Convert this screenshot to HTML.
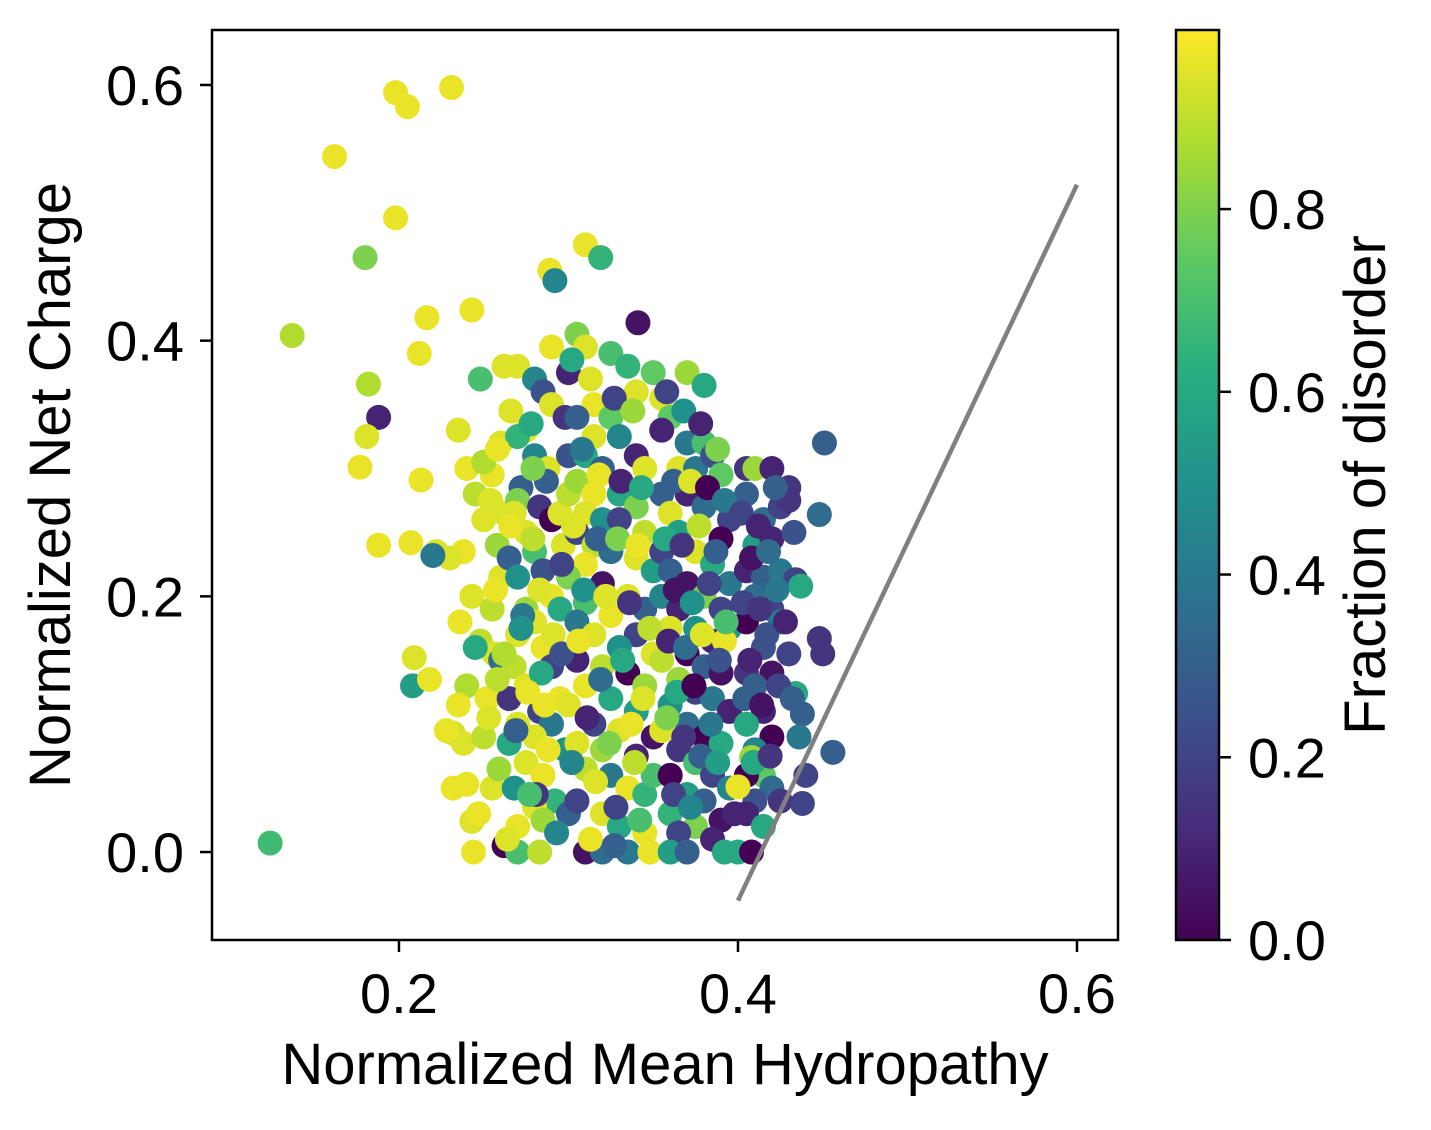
<!DOCTYPE html>
<html><head><meta charset="utf-8"><style>
html,body{margin:0;padding:0;background:#fff}
svg text{font-family:"Liberation Sans",Arial,sans-serif;fill:#000}
</style></head><body>
<svg id="chart" width="1431" height="1125" viewBox="0 0 1431 1125" xmlns="http://www.w3.org/2000/svg">
<defs><linearGradient id="vir" x1="0" y1="1" x2="0" y2="0">
<stop offset="0" stop-color="#440154"/><stop offset="0.125" stop-color="#472d7b"/><stop offset="0.25" stop-color="#3b528b"/><stop offset="0.375" stop-color="#2c728e"/><stop offset="0.5" stop-color="#21918c"/><stop offset="0.625" stop-color="#28ae80"/><stop offset="0.75" stop-color="#5ec962"/><stop offset="0.875" stop-color="#addc30"/><stop offset="1" stop-color="#fde725"/></linearGradient></defs>
<g id="points"></g>
<line id="ref" stroke="#808080" stroke-width="4.5"/>
<rect x="212" y="30" width="906" height="910" fill="none" stroke="#000" stroke-width="2.5"/>
<g id="axes"></g>
<text x="665" y="1084" font-size="58" text-anchor="middle">Normalized Mean Hydropathy</text>
<text transform="translate(70,485) rotate(-90)" font-size="58" text-anchor="middle">Normalized Net Charge</text>
<rect x="1176" y="30" width="43" height="910" fill="url(#vir)" stroke="#000" stroke-width="2.5"/>
<text transform="translate(1385,485) rotate(-90)" font-size="58" text-anchor="middle">Fraction of disorder</text>
</svg>
<script>
const xTicks=[0.2,0.4,0.6];
const yTicks=[0.0,0.2,0.4,0.6];
const cTicks=[0.0,0.2,0.4,0.6,0.8];
const refLineX=[0.4,0.6];
const refLineY=[-0.038,0.522];
const xs=[0.198,0.205,0.231,0.162,0.198,0.180,0.137,0.182,0.188,0.181,0.177,0.188,0.124,0.2165,0.212,0.213,0.207,0.209,0.208,0.243,0.310,0.319,0.289,0.292,0.341,
0.235,0.24,0.245,0.25,0.238,0.243,0.236,0.248,0.24,0.235,0.232,0.238,0.24,0.243,0.244,0.255,0.25,0.252,0.256,0.245,0.255,0.26,0.258,0.262,0.255,0.26,0.25,0.26,0.265,0.248,0.23,0.222,0.22,0.218,0.228,0.232,
0.27,0.262,0.28,0.285,0.29,0.29,0.275,0.27,0.28,0.288,0.272,0.27,0.283,0.29,0.295,0.275,0.28,0.27,0.285,0.29,0.275,0.28,0.295,0.27,0.285,0.268,0.29,0.275,0.265,0.283,0.295,0.27,0.29,0.28,0.265,0.275,0.285,0.268,0.292,0.28,0.27,0.285,0.262,0.27,0.283,0.3,0.298,0.297,0.3,0.3,0.298,
0.305,0.31,0.3,0.325,0.335,0.34,0.315,0.305,0.325,0.33,0.315,0.31,0.34,0.345,0.32,0.305,0.315,0.33,0.34,0.31,0.32,0.33,0.345,0.305,0.315,0.325,0.34,0.35,0.31,0.3,0.32,0.335,0.345,0.31,0.325,0.305,0.315,0.34,0.33,0.35,0.305,0.32,0.335,0.345,0.31,0.325,0.3,0.34,0.315,0.33,0.35,0.305,0.32,0.34,0.31,0.325,0.335,0.345,0.305,0.32,0.33,0.345,0.31,0.32,0.335,0.348,0.35,0.35,0.355,
0.37,0.38,0.36,0.37,0.38,0.355,0.365,0.375,0.385,0.39,0.355,0.37,0.36,0.38,0.395,0.39,0.365,0.355,0.375,0.385,0.36,0.37,0.38,0.395,0.355,0.365,0.39,0.375,0.36,0.385,0.395,0.37,0.355,0.38,0.39,0.365,0.375,0.36,0.385,0.395,0.37,0.355,0.38,0.39,0.365,0.375,0.36,0.385,0.395,0.37,0.38,0.36,0.39,0.375,0.365,0.385,0.36,0.37,0.392,0.4,
0.405,0.41,0.42,0.43,0.405,0.415,0.425,0.43,0.41,0.42,0.405,0.415,0.425,0.41,0.42,0.405,0.425,0.415,0.43,0.405,0.42,0.41,0.415,0.405,0.42,0.41,0.415,0.405,0.42,0.41,0.425,0.405,0.415,
0.451,0.448,0.456,0.438,0.450,0.448,0.434,0.437,0.434,0.438,0.408,0.400,0.392,0.408,
0.266,0.278,0.258,0.287,0.268,0.279,0.296,0.257,0.273,0.291,0.262,0.284,0.276,0.253,0.269,0.288,0.259,0.281,0.247,0.293,0.264,0.277,0.286,0.258,0.272,0.283,0.296,0.266,0.254,0.279,
0.302,0.313,0.327,0.338,0.308,0.318,0.331,0.343,0.303,0.317,0.329,0.341,0.309,0.322,0.336,0.348,0.306,0.319,0.332,0.344,0.311,0.324,0.337,0.302,0.316,0.328,0.342,0.313,0.327,0.339,
0.358,0.368,0.378,0.388,0.362,0.372,0.382,0.392,0.357,0.367,0.377,0.387,0.363,0.373,0.383,0.393,0.359,0.369,0.379,0.389,0.364,0.374,0.384,0.358,0.368,0.378,0.388,0.398,0.362,0.372,
0.402,0.412,0.422,0.408,0.418,0.403,0.413,0.423,0.407,0.417,0.404,0.414,0.424,0.409,0.419,0.433,0.428,0.432,0.44,0.436];
const ys=[0.594,0.583,0.598,0.544,0.496,0.465,0.404,0.366,0.340,0.325,0.301,0.240,0.007,0.418,0.390,0.291,0.242,0.152,0.130,0.424,0.475,0.465,0.455,0.447,0.414,
0.33,0.30,0.28,0.26,0.235,0.2,0.18,0.165,0.13,0.115,0.093,0.085,0.053,0.024,0.0,0.05,0.09,0.12,0.155,0.16,0.19,0.215,0.24,0.265,0.295,0.32,0.305,0.15,0.23,0.37,0.23,0.235,0.232,0.135,0.095,0.05,
0.38,0.38,0.37,0.36,0.395,0.35,0.33,0.325,0.31,0.30,0.285,0.275,0.27,0.26,0.265,0.25,0.235,0.215,0.22,0.2,0.19,0.18,0.19,0.17,0.16,0.145,0.145,0.13,0.12,0.11,0.12,0.1,0.1,0.09,0.085,0.07,0.06,0.05,0.04,0.035,0.02,0.025,0.005,0.0,0.0,0.03,0.08,0.24,0.28,0.31,0.34,
0.405,0.395,0.375,0.39,0.38,0.36,0.35,0.34,0.34,0.325,0.325,0.31,0.31,0.3,0.3,0.29,0.28,0.28,0.27,0.265,0.26,0.26,0.25,0.25,0.24,0.235,0.23,0.22,0.225,0.215,0.21,0.2,0.19,0.195,0.185,0.18,0.17,0.17,0.16,0.155,0.15,0.145,0.14,0.13,0.13,0.12,0.115,0.11,0.1,0.095,0.09,0.085,0.08,0.075,0.065,0.06,0.05,0.045,0.04,0.03,0.02,0.015,0.0,0.0,0.0,0.0,0.06,0.375,0.355,
0.375,0.365,0.34,0.32,0.32,0.33,0.3,0.3,0.31,0.295,0.28,0.28,0.265,0.27,0.26,0.245,0.25,0.235,0.235,0.225,0.22,0.21,0.2,0.21,0.2,0.19,0.19,0.175,0.175,0.165,0.175,0.155,0.15,0.145,0.14,0.135,0.125,0.115,0.12,0.11,0.1,0.095,0.09,0.085,0.08,0.07,0.06,0.06,0.05,0.045,0.04,0.03,0.025,0.02,0.015,0.01,0.0,0.0,0.0,0.0,
0.3,0.3,0.3,0.285,0.28,0.26,0.27,0.275,0.24,0.245,0.22,0.215,0.22,0.2,0.19,0.18,0.18,0.16,0.155,0.14,0.14,0.13,0.11,0.1,0.09,0.08,0.06,0.06,0.05,0.04,0.04,0.03,0.02,
0.320,0.264,0.078,0.038,0.155,0.167,0.213,0.208,0.124,0.108,0.0,0.051,0.165,0.074,
0.345,0.335,0.315,0.29,0.265,0.245,0.225,0.205,0.185,0.17,0.155,0.14,0.125,0.105,0.095,0.08,0.065,0.045,0.03,0.015,0.01,0.045,0.115,0.135,0.175,0.205,0.155,0.255,0.275,0.3,
0.385,0.37,0.355,0.345,0.315,0.295,0.29,0.285,0.255,0.245,0.245,0.24,0.205,0.2,0.195,0.175,0.165,0.135,0.15,0.12,0.105,0.085,0.1,0.07,0.055,0.035,0.025,0.01,0.005,0.07,
0.36,0.345,0.335,0.315,0.29,0.29,0.285,0.275,0.245,0.24,0.255,0.235,0.205,0.195,0.21,0.18,0.165,0.16,0.17,0.15,0.125,0.13,0.1,0.105,0.09,0.075,0.07,0.03,0.045,0.035,
0.265,0.255,0.285,0.23,0.235,0.195,0.19,0.205,0.15,0.17,0.12,0.115,0.13,0.07,0.075,0.25,0.18,0.12,0.06,0.09];
const cs=[0.97,0.97,0.97,0.97,0.97,0.8,0.88,0.88,0.1,0.95,0.97,0.97,0.68,0.97,0.97,0.97,0.97,0.95,0.55,0.97,0.97,0.65,0.97,0.45,0.05,
0.95,0.97,0.9,0.95,0.97,0.95,0.97,0.9,0.88,0.97,0.93,0.95,0.97,0.95,0.97,0.95,0.9,0.97,0.95,0.6,0.9,0.95,0.85,0.95,0.97,0.95,0.88,0.35,0.3,0.7,0.95,0.95,0.4,0.97,0.97,0.97,
0.95,0.95,0.45,0.25,0.97,0.95,0.97,0.65,0.45,0.95,0.3,0.8,0.15,0.0,0.95,0.95,0.7,0.5,0.25,0.97,0.85,0.95,0.6,0.95,0.97,0.9,0.2,0.95,0.15,0.2,0.97,0.95,0.4,0.95,0.6,0.95,0.97,0.5,0.65,0.95,0.97,0.85,0.0,0.7,0.9,0.3,0.5,0.95,0.9,0.25,0.15,
0.8,0.95,0.1,0.7,0.65,0.95,0.97,0.3,0.75,0.45,0.95,0.6,0.1,0.95,0.3,0.85,0.97,0.6,0.8,0.95,0.5,0.2,0.9,0.2,0.9,0.35,0.95,0.55,0.97,0.8,0.05,0.95,0.3,0.7,0.97,0.4,0.95,0.2,0.5,0.95,0.1,0.9,0.0,0.85,0.97,0.6,0.95,0.55,0.2,0.95,0.05,0.95,0.85,0.1,0.9,0.4,0.97,0.65,0.2,0.95,0.6,0.97,0.05,0.35,0.4,0.97,0.7,0.75,0.95,
0.85,0.6,0.75,0.4,0.7,0.1,0.95,0.4,0.25,0.75,0.3,0.1,0.95,0.35,0.2,0.0,0.55,0.2,0.95,0.6,0.3,0.05,0.8,0.4,0.45,0.1,0.2,0.5,0.95,0.1,0.55,0.0,0.9,0.3,0.05,0.85,0.2,0.5,0.4,0.1,0.35,0.95,0.0,0.6,0.15,0.7,0.0,0.2,0.45,0.55,0.3,0.65,0.05,0.8,0.2,0.1,0.55,0.3,0.6,0.6,
0.15,0.85,0.1,0.15,0.3,0.35,0.2,0.15,0.55,0.1,0.1,0.3,0.4,0.35,0.2,0.0,0.4,0.25,0.2,0.15,0.05,0.3,0.1,0.6,0.0,0.45,0.75,0.0,0.35,0.25,0.15,0.1,0.6,
0.3,0.35,0.3,0.2,0.15,0.15,0.2,0.6,0.6,0.3,0.0,0.97,0.97,0.85,
0.95,0.6,0.97,0.3,0.95,0.9,0.2,0.97,0.4,0.95,0.88,0.6,0.97,0.95,0.3,0.97,0.85,0.15,0.97,0.45,0.95,0.7,0.97,0.9,0.5,0.95,0.25,0.97,0.95,0.8,
0.6,0.95,0.2,0.85,0.4,0.97,0.1,0.6,0.95,0.3,0.8,0.97,0.5,0.95,0.15,0.9,0.97,0.35,0.6,0.95,0.1,0.8,0.97,0.45,0.95,0.2,0.7,0.97,0.3,0.9,
0.2,0.5,0.1,0.8,0.3,0.95,0.0,0.4,0.6,0.15,0.9,0.3,0.05,0.5,0.2,0.7,0.1,0.35,0.95,0.25,0.6,0.0,0.4,0.8,0.15,0.3,0.55,0.1,0.2,0.45,
0.2,0.1,0.3,0.05,0.35,0.2,0.15,0.4,0.1,0.25,0.3,0.05,0.2,0.6,0.15,0.25,0.1,0.3,0.2,0.4];
const xMin=0.0897,xMax=0.6242,yMin=-0.0688,yMax=0.643;
const L=212,R=1118,T=30,B=940;
function sx(v){return L+(v-xMin)/(xMax-xMin)*(R-L);}
function sy(v){return B-(v-yMin)/(yMax-yMin)*(B-T);}
function sc(v){return 940-v/0.996*910;}
const vstops=[[68,1,84],[71,45,123],[59,82,139],[44,114,142],[33,145,140],[40,174,128],[94,201,98],[173,220,48],[253,231,37]];
function viridis(t){t=Math.max(0,Math.min(1,t));const p=t*8,i=Math.min(7,Math.floor(p)),f=p-i;const a=vstops[i],b=vstops[i+1];return 'rgb('+a.map((v,k)=>Math.round(v+(b[k]-v)*f)).join(',')+')';}
const NS='http://www.w3.org/2000/svg';
const pts=document.getElementById('points');
for(let i=0;i<xs.length;i++){
 const c=document.createElementNS(NS,'circle');
 c.setAttribute('cx',sx(xs[i]));c.setAttribute('cy',sy(ys[i]));c.setAttribute('r',12.5);c.setAttribute('fill',viridis(cs[i]));
 
 
 pts.appendChild(c);
}
const ln=document.getElementById('ref');
ln.setAttribute('x1',sx(refLineX[0]));ln.setAttribute('y1',sy(refLineY[0]));
ln.setAttribute('x2',sx(refLineX[1]));ln.setAttribute('y2',sy(refLineY[1]));
const ax=document.getElementById('axes');
function mk(tag,attrs,txt){const e=document.createElementNS(NS,tag);for(const k in attrs)e.setAttribute(k,attrs[k]);if(txt!==undefined)e.textContent=txt;ax.appendChild(e);return e;}
xTicks.forEach(v=>{const x=sx(v);
 const t=mk('line',{x1:x,x2:x,y1:B,y2:B+12,stroke:'#000','stroke-width':2.5});
 
 
 const l=mk('text',{x:x,y:1013,'font-size':56,'text-anchor':'middle'},v.toFixed(1));
 
 
});
yTicks.forEach(v=>{const y=sy(v);
 const t=mk('line',{x1:L-12,x2:L,y1:y,y2:y,stroke:'#000','stroke-width':2.5});
 
 
 const l=mk('text',{x:184,y:y+20,'font-size':56,'text-anchor':'end'},v.toFixed(1));
 
 
});
cTicks.forEach(v=>{const y=sc(v);
 const t=mk('line',{x1:1219,x2:1231,y1:y,y2:y,stroke:'#000','stroke-width':2.5});
 
 
 const l=mk('text',{x:1248,y:y+20,'font-size':56,'text-anchor':'start'},v.toFixed(1));
 
 
});
</script>
</body></html>
